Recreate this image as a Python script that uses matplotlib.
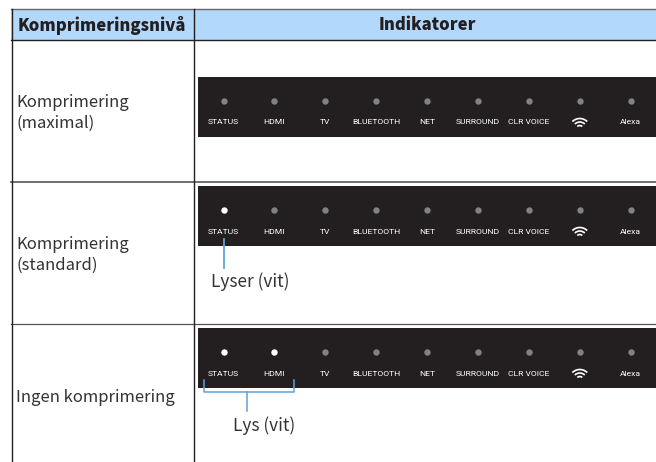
import matplotlib
matplotlib.use('Agg')
import matplotlib.pyplot as plt
from matplotlib.patches import Arc, Rectangle

plt.rcParams['font.family'] = ['Noto Sans CJK JP', 'DejaVu Sans']

headers = ['Komprimeringsnivå', 'Indikatorer']
row_names = ['Komprimering\n(maximal)', 'Komprimering\n(standard)', 'Ingen komprimering']
indicators = ['STATUS', 'HDMI', 'TV', 'BLUETOOTH', 'NET', 'SURROUND', 'CLR VOICE', '', 'Alexa']
# how many indicators are lit in each row
lit_counts = [0, 1, 2]
callouts = ['', 'Lyser (vit)', 'Lys (vit)']

INK = '#231f20'
TEXT = '#333333'
BLUE = '#5fa3d8'

fig = plt.figure(figsize=(6.56, 4.62), dpi=100)
ax = fig.add_axes([0, 0, 1, 1])
ax.set_xlim(0, 656)
ax.set_ylim(462, 0)
ax.axis('off')

# table frame
ax.add_patch(Rectangle((11, 9), 645, 30.5, color='#b2d8fc', lw=0))
ax.plot([11, 656], [9, 9], color='#666666', lw=1.0)
ax.plot([11, 656], [39.5, 39.5], color=INK, lw=1.0)
ax.plot([11, 656], [181.5, 181.5], color='#666666', lw=1.3)
ax.plot([11, 656], [324, 324], color='#555555', lw=0.9)
ax.plot([11.5, 11.5], [9, 462], color=INK, lw=1.0)
ax.plot([193.5, 193.5], [9, 462], color=INK, lw=1.0)

ax.text(102, 25.5, headers[0], fontsize=12, fontweight='black', color=INK, ha='center', va='center')
ax.text(427, 25.5, headers[1], fontsize=12, fontweight='black', color=INK, ha='center', va='center')

panel_tops = [77, 186, 328]
row_text_y = [113, 255, 397]
x_start = 223.5
x_step = 50.9


def wifi(x, y):
    for d in [21, 14, 7]:
        ax.add_patch(Arc((x, y + 6.5), d, d, theta1=225, theta2=315, color='white', lw=1.2))


for r, top in enumerate(panel_tops):
    ax.add_patch(Rectangle((198, top), 458, 60, color=INK, lw=0))
    ax.text(16, row_text_y[r], row_names[r], fontsize=12, color=TEXT, ha='left', va='center', linespacing=1.27)
    for i, name in enumerate(indicators):
        x = x_start + i * x_step
        on = i < lit_counts[r]
        ax.plot(x, top + 24, 'o', ms=4.6, mew=0, color='white' if on else '#808285')
        if name:
            ax.text(x, top + 45.5, name, fontsize=6.1, color='white', family='Roboto', ha='center', va='center')
        else:
            wifi(x, top + 45.5)

# callouts
ax.plot([224, 224], [239, 268], color=BLUE, lw=1.3)
ax.text(211, 282, callouts[1], fontsize=12.4, color=TEXT, ha='left', va='center')

ax.plot([204, 204, 293.5, 293.5], [380, 392, 392, 380], color=BLUE, lw=1.1)
ax.plot([247, 247], [392, 411], color=BLUE, lw=1.1)
ax.text(233, 426, callouts[2], fontsize=12.4, color=TEXT, ha='left', va='center')

fig.savefig('out.png', dpi=100)
